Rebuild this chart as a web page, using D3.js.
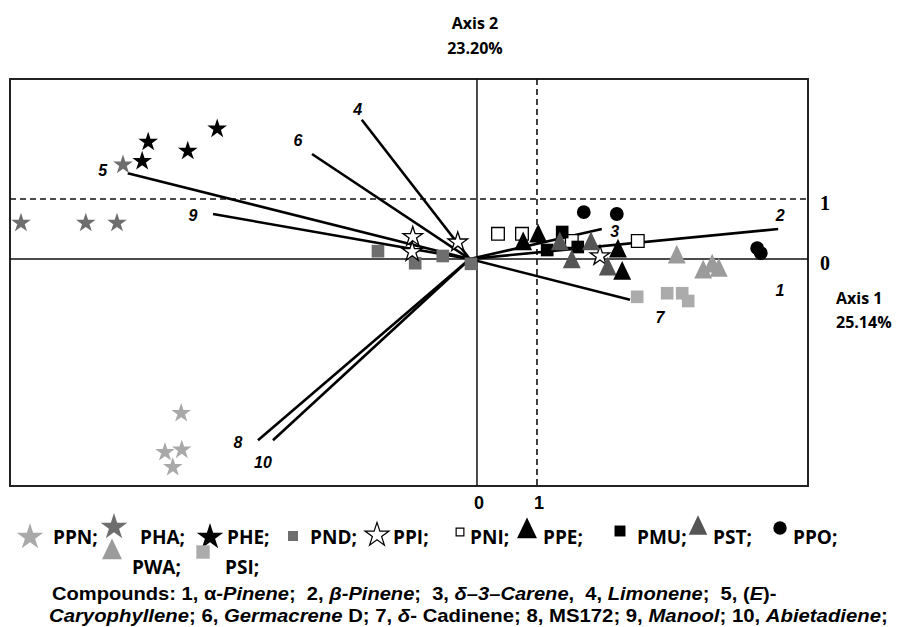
<!DOCTYPE html>
<html>
<head>
<meta charset="utf-8">
<script src="https://cdn.jsdelivr.net/npm/d3@7"></script>
<style>
  body { margin: 0; background: #fff; }
  svg { display: block; }
</style>
</head>
<body>
<script>
var width = 898
var height = 627
var frame = { left: 10, right: 808, top: 79, bottom: 486 }

// sample scores (axis 1, axis 2)
var ppn = [[-4.93, -2.57], [-5.20, -3.22], [-4.92, -3.18], [-5.07, -3.47]]
var pha = [[-7.60, 0.60], [-6.52, 0.60], [-6.00, 0.60], [-5.90, 1.57]]
var phe = [[-5.48, 1.95], [-5.58, 1.63], [-4.82, 1.80], [-4.33, 2.17]]
var pnd = [[-1.65, 0.13], [-1.03, -0.07], [-0.57, 0.05], [-0.10, -0.08]]
var ppi = [[-1.07, 0.37], [-1.08, 0.12], [-0.32, 0.28], [2.05, 0.05]]
var pni = [[0.35, 0.42], [0.75, 0.42], [1.58, 0.30], [2.68, 0.30]]
var pmu = [[1.42, 0.45], [1.17, 0.15], [1.68, 0.20]]
var pst = [[1.38, 0.27], [1.58, -0.03], [1.90, 0.27], [2.18, -0.15]]
var ppe = [[0.77, 0.27], [1.02, 0.40], [2.35, 0.15], [2.42, -0.22]]
var pwa = [[3.33, 0.05], [3.77, -0.20], [3.92, -0.10], [4.03, -0.17]]
var psi = [[2.67, -0.63], [3.17, -0.57], [3.42, -0.57], [3.52, -0.70]]
var ppo = [[1.78, 0.78], [2.33, 0.75], [4.67, 0.18], [4.73, 0.10]]

// compound loadings
var compoundIds = ['1', '2', '3', '4', '5', '6', '7', '8', '9', '10']
var loadX = [5.05, 5.02, 2.08, -1.92, -5.82, -2.75, 2.55, -3.65, -4.40, -3.40]
var loadY = [-0.05, 0.50, 0.50, 2.32, 1.43, 1.75, -0.68, -3.02, 0.75, -3.02]

var xTicks = [0, 1]
var yTicks = [0, 1]

var groups = [
  { name: 'PND', pts: pnd, shape: 'square', fill: '#6e6e6e', stroke: 'none' },
  { name: 'PPI', pts: ppi, shape: 'star', fill: '#fff', stroke: '#000' },
  { name: 'PNI', pts: pni, shape: 'square', fill: '#fff', stroke: '#000' },
  { name: 'PMU', pts: pmu, shape: 'square', fill: '#000', stroke: 'none' },
  { name: 'PST', pts: pst, shape: 'triangle', fill: '#555', stroke: 'none' },
  { name: 'PPE', pts: ppe, shape: 'triangle', fill: '#000', stroke: 'none' },
  { name: 'PWA', pts: pwa, shape: 'triangle', fill: '#9b9b9b', stroke: 'none' },
  { name: 'PSI', pts: psi, shape: 'square', fill: '#ababab', stroke: 'none' },
  { name: 'PPO', pts: ppo, shape: 'circle', fill: '#000', stroke: 'none' },
  { name: 'PHA', pts: pha, shape: 'star', fill: '#6e6e6e', stroke: 'none' },
  { name: 'PHE', pts: phe, shape: 'star', fill: '#000', stroke: 'none' },
  { name: 'PPN', pts: ppn, shape: 'star', fill: '#a9a9a9', stroke: 'none' }
]

// tall triangle, a bit higher than equilateral
var tallTriangle = {
  draw: function(ctx, size) {
    var w = Math.sqrt(size) * 1.15
    var h = w * 1.05
    ctx.moveTo(0, -h * 0.6)
    ctx.lineTo(w / 2, h * 0.4)
    ctx.lineTo(-w / 2, h * 0.4)
    ctx.closePath()
  }
}
var shapes = { star: d3.symbolStar, square: d3.symbolSquare, circle: d3.symbolCircle, triangle: tallTriangle }
var sizes = { star: 120, square: 160, circle: 150, triangle: 240 }

var xScale = d3.scaleLinear()
               .domain([-7.783, 5.517])
               .range([frame.left, frame.right])
var yScale = d3.scaleLinear()
               .domain([3.0, -3.783])
               .range([frame.top, frame.bottom])

var svg = d3.select('body').append('svg')
            .attr('width', width)
            .attr('height', height)

var sans = "'Open Sans', 'DejaVu Sans', sans-serif"
var arial = "'Liberation Sans', Arial, sans-serif"

// squeeze a text horizontally so it spans a given width (narrow font look)
function fitWidth(sel, x, y, w) {
  var len = sel.node().getBBox().width
  sel.attr('transform', 'translate(' + [x, y] + ') scale(' + (w / len) + ',1)')
}

// frame
svg.append('rect')
   .attr('x', frame.left).attr('y', frame.top)
   .attr('width', frame.right - frame.left)
   .attr('height', frame.bottom - frame.top)
   .attr('fill', 'none')
   .attr('stroke', '#222')
   .attr('stroke-width', 2)

// zero axes (solid) and unit lines (dashed)
svg.append('line')
   .attr('x1', xScale(0)).attr('x2', xScale(0))
   .attr('y1', frame.top).attr('y2', frame.bottom)
   .attr('stroke', '#111').attr('stroke-width', 1.5)
svg.append('line')
   .attr('x1', frame.left).attr('x2', frame.right)
   .attr('y1', yScale(0)).attr('y2', yScale(0))
   .attr('stroke', '#111').attr('stroke-width', 1.5)
svg.append('line')
   .attr('x1', xScale(1)).attr('x2', xScale(1))
   .attr('y1', frame.top).attr('y2', frame.bottom)
   .attr('stroke', '#111').attr('stroke-width', 1.6)
   .attr('stroke-dasharray', '6,4')
svg.append('line')
   .attr('x1', frame.left).attr('x2', frame.right)
   .attr('y1', yScale(1)).attr('y2', yScale(1))
   .attr('stroke', '#111').attr('stroke-width', 1.6)
   .attr('stroke-dasharray', '6,4')

// compound vectors
var vecs = compoundIds.map((id, i) => ({ id: id, x: loadX[i], y: loadY[i] }))
var labelOffset = {
  '1': [0, 28], '2': [2, -14], '3': [13, 2], '4': [-4, -10], '5': [-25, -3],
  '6': [-14, -14], '7': [30, 18], '8': [-20, 2], '9': [-20, 1], '10': [-10, 22]
}
var ox = -0.12
svg.append('g').selectAll('line')
   .data(vecs.filter(d => d.id !== '1'))
   .enter().append('line')
   .attr('x1', xScale(ox)).attr('y1', yScale(0))
   .attr('x2', d => xScale(d.x)).attr('y2', d => yScale(d.y))
   .attr('stroke', '#000')
   .attr('stroke-width', 2.6)

svg.append('g').selectAll('text')
   .data(vecs)
   .enter().append('text')
   .attr('x', d => xScale(d.x) + labelOffset[d.id][0])
   .attr('y', d => yScale(d.y) + labelOffset[d.id][1])
   .attr('text-anchor', 'middle')
   .attr('dominant-baseline', 'central')
   .attr('font-family', arial)
   .attr('font-weight', 'bold')
   .attr('font-style', 'italic')
   .attr('font-size', 16)
   .text(d => d.id)

// sample markers
var symbol = d3.symbol()
groups.forEach(g => {
  svg.append('g').selectAll('path')
     .data(g.pts)
     .enter().append('path')
     .attr('transform', d => 'translate(' + [xScale(d[0]), yScale(d[1])] + ')')
     .attr('d', symbol.type(shapes[g.shape]).size(sizes[g.shape])())
     .attr('fill', g.fill)
     .attr('stroke', g.stroke)
     .attr('stroke-width', 1.3)
})

// tick labels
svg.append('g').selectAll('text')
   .data(xTicks)
   .enter().append('text')
   .attr('x', d => xScale(d) + 2)
   .attr('y', frame.bottom + 17)
   .attr('text-anchor', 'middle')
   .attr('dominant-baseline', 'central')
   .attr('font-family', arial)
   .attr('font-weight', 'bold')
   .attr('font-size', 18)
   .text(d => d)

svg.append('g').selectAll('text')
   .data(yTicks)
   .enter().append('text')
   .attr('x', 825)
   .attr('y', d => yScale(d) + 4)
   .attr('text-anchor', 'middle')
   .attr('dominant-baseline', 'central')
   .attr('font-family', "'Liberation Serif', 'Times New Roman', serif")
   .attr('font-weight', 'bold')
   .attr('font-size', 20)
   .text(d => d)

// axis titles
var t2 = svg.append('text')
            .attr('text-anchor', 'middle')
            .attr('font-family', sans)
            .attr('font-weight', 'bold')
            .attr('font-size', 16)
t2.append('tspan').attr('x', 475).attr('y', 29).text('Axis 2')
t2.append('tspan').attr('x', 475).attr('y', 54).text('23.20%')

var t1 = svg.append('text')
            .attr('font-family', sans)
            .attr('font-weight', 'bold')
            .attr('font-size', 16)
t1.append('tspan').attr('x', 836).attr('y', 304).text('Axis 1')
t1.append('tspan').attr('x', 836).attr('y', 328).text('25.14%')

// legend
var legendOrder = ['PPN', 'PHA', 'PHE', 'PND', 'PPI', 'PNI', 'PPE', 'PMU', 'PST', 'PPO', 'PWA', 'PSI']
var legendPos = [
  [30, 537, 53, 537], [114, 527, 140, 537], [210, 537, 227, 537], [293, 536, 310, 537],
  [377, 535, 393, 537], [460, 532, 470, 537], [527, 530, 543, 537], [620, 531, 637, 537],
  [698, 527, 713, 537], [780, 528, 793, 537], [112, 551, 132, 567], [203, 552, 225, 567]
]
var legendSize = { PPN: 220, PHA: 220, PHE: 220, PND: 100, PPI: 180, PNI: 60, PPE: 300, PMU: 120, PST: 260, PPO: 140, PWA: 300, PSI: 180 }
legendOrder.forEach((name, i) => {
  var g = groups.find(d => d.name === name)
  var p = legendPos[i]
  svg.append('path')
     .attr('transform', 'translate(' + [p[0], p[1]] + ')')
     .attr('d', d3.symbol().type(shapes[g.shape]).size(legendSize[name])())
     .attr('fill', g.fill)
     .attr('stroke', g.stroke)
     .attr('stroke-width', 1.2)
  svg.append('text')
     .attr('x', p[2]).attr('y', p[3])
     .attr('dominant-baseline', 'central')
     .attr('font-family', sans)
     .attr('font-weight', 'bold')
     .attr('font-size', 19)
     .text(name + ';')
})

// compounds note
var line1 = [
  ['Compounds: 1, ', 'normal'], ['\u03b1', 'normal'], ['-Pinene', 'italic'], [';  2, ', 'normal'],
  ['\u03b2-Pinene', 'italic'], [';  3, ', 'normal'], ['\u03b4\u20133\u2013Carene', 'italic'],
  [',  4, ', 'normal'], ['Limonene', 'italic'], [';  5, (', 'normal'], ['E', 'italic'], [')-', 'normal']
]
var line2 = [
  ['Caryophyllene', 'italic'], ['; 6, ', 'normal'], ['Germacrene', 'italic'], [' D; 7, ', 'normal'],
  ['\u03b4', 'italic'], ['- Cadinene; 8, MS172; 9, ', 'normal'], ['Manool', 'italic'],
  ['; 10, ', 'normal'], ['Abietadiene', 'italic'], [';', 'normal']
]
function note(parts, x, y, w) {
  var t = svg.append('text')
             .attr('font-family', arial)
             .attr('font-weight', 'bold')
             .attr('font-size', 18)
             .style('white-space', 'pre')
  t.selectAll('tspan').data(parts).enter().append('tspan')
   .attr('font-style', d => d[1])
   .text(d => d[0])
  fitWidth(t, x, y, w)
}
note(line1, 52, 600, 725)
note(line2, 49, 622, 839)
</script>
</body>
</html>
